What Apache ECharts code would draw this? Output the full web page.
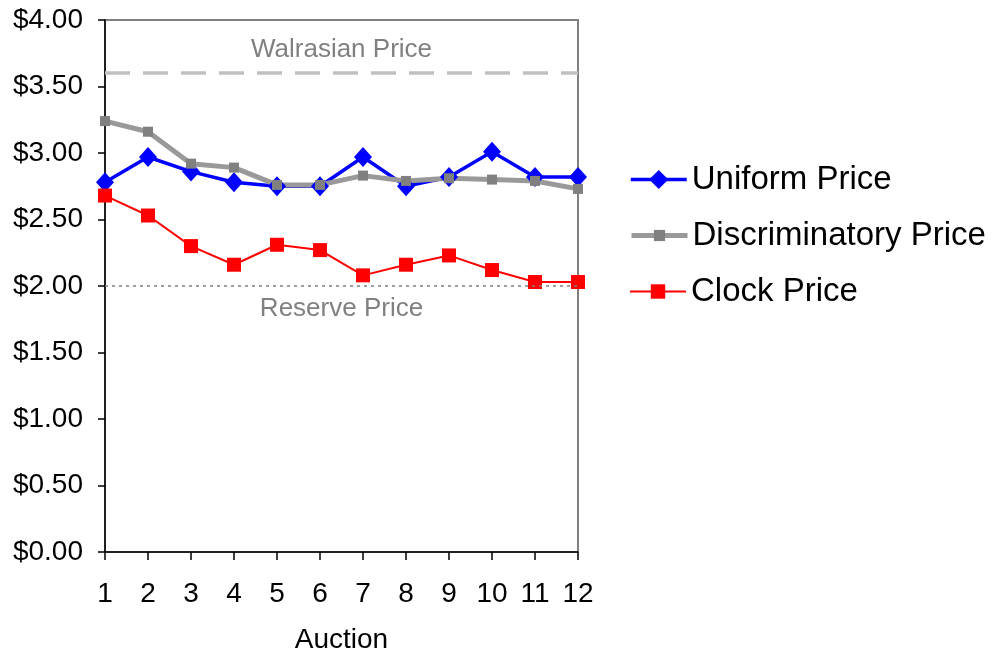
<!DOCTYPE html>
<html>
<head>
<meta charset="utf-8">
<script src="https://cdn.jsdelivr.net/npm/echarts@6/dist/echarts.min.js"></script>
<style>
  html, body { margin: 0; padding: 0; background: #fff; }
  #chart { width: 995px; height: 653px; }
</style>
</head>
<body>
<div id="chart"></div>
<script>
// Auction numbers along the x axis
const auctions = ['1', '2', '3', '4', '5', '6', '7', '8', '9', '10', '11', '12'];

// Average prices per auction format
const uniformPrice = [2.78, 2.97, 2.86, 2.78, 2.75, 2.75, 2.97, 2.75, 2.82, 3.01, 2.82, 2.82];
const discriminatoryPrice = [3.24, 3.16, 2.92, 2.89, 2.76, 2.76, 2.83, 2.79, 2.81, 2.80, 2.79, 2.73];
const clockPrice = [2.68, 2.53, 2.30, 2.16, 2.31, 2.27, 2.08, 2.16, 2.23, 2.12, 2.03, 2.03];

// Reference price levels
const walrasianPrice = 3.60;
const reservePrice = 2.00;

const FONT = 'Liberation Sans, Arial, sans-serif';

const chart = echarts.init(document.getElementById('chart'));

function legendFor(name, top, itemHeight, lineColor, lineWidth) {
  return {
    data: [name],
    orient: 'vertical',
    left: 629,
    top: top,
    padding: 0,
    itemWidth: 56,
    itemHeight: itemHeight,
    itemGap: 0,
    lineStyle: { color: lineColor, width: lineWidth },
    textStyle: { fontFamily: FONT, fontSize: 33, color: '#000' }
  };
}

chart.setOption({
  animation: false,
  backgroundColor: '#fff',
  textStyle: { fontFamily: FONT },
  grid: {
    left: 105, right: 417, top: 20, bottom: 101,
    outerBoundsMode: 'none',
    containLabel: false,
    show: true, borderColor: '#808080', borderWidth: 2, backgroundColor: 'transparent'
  },
  legend: [
    legendFor('Uniform Price', 163, 24, '#0000ff', 3.5),
    legendFor('Discriminatory Price', 219, 14, '#999999', 5),
    legendFor('Clock Price', 275, 18, '#ff0000', 2)
  ],
  xAxis: {
    type: 'category',
    data: auctions,
    boundaryGap: false,
    name: 'Auction',
    nameLocation: 'middle',
    nameGap: 74,
    nameTextStyle: { fontFamily: FONT, fontSize: 28, color: '#000' },
    axisLine: { lineStyle: { color: '#000', width: 1.5 } },
    axisTick: { length: 8, lineStyle: { color: '#000', width: 1.5 } },
    axisLabel: { fontFamily: FONT, fontSize: 28, color: '#000', margin: 28 },
    splitLine: { show: false }
  },
  yAxis: {
    type: 'value',
    min: 0, max: 4, interval: 0.5,
    axisLine: { show: true, lineStyle: { color: '#000', width: 1.5 } },
    axisTick: { show: true, length: 7, lineStyle: { color: '#000', width: 1.5 } },
    axisLabel: {
      fontFamily: FONT, fontSize: 28, color: '#000', margin: 22,
      formatter: v => '$' + v.toFixed(2)
    },
    splitLine: { show: false }
  },
  series: [
    {
      name: 'Uniform Price',
      type: 'line',
      data: uniformPrice,
      symbol: 'diamond',
      symbolSize: [18, 20],
      showAllSymbol: true,
      lineStyle: { color: '#0000ff', width: 3.5 },
      itemStyle: { color: '#0000ff' },
      markLine: {
        silent: true,
        symbol: 'none',
        data: [
          {
            yAxis: walrasianPrice,
            lineStyle: { color: '#c0c0c0', width: 3.5, type: [25, 13] },
            label: {
              show: true, position: 'insideMiddleTop', distance: 10,
              formatter: 'Walrasian Price',
              fontFamily: FONT, fontSize: 26, color: '#808080'
            }
          },
          {
            yAxis: reservePrice,
            lineStyle: { color: '#808080', width: 1.5, type: [3, 4] },
            label: {
              show: true, position: 'insideMiddleBottom', distance: 10,
              formatter: 'Reserve Price',
              fontFamily: FONT, fontSize: 26, color: '#808080'
            }
          }
        ]
      }
    },
    {
      name: 'Discriminatory Price',
      type: 'line',
      data: discriminatoryPrice,
      symbol: 'rect',
      symbolSize: 10,
      showAllSymbol: true,
      lineStyle: { color: '#999999', width: 5 },
      itemStyle: { color: '#808080' }
    },
    {
      name: 'Clock Price',
      type: 'line',
      data: clockPrice,
      symbol: 'rect',
      symbolSize: 14,
      showAllSymbol: true,
      lineStyle: { color: '#ff0000', width: 2 },
      itemStyle: { color: '#ff0000' }
    }
  ]
});
</script>
</body>
</html>
